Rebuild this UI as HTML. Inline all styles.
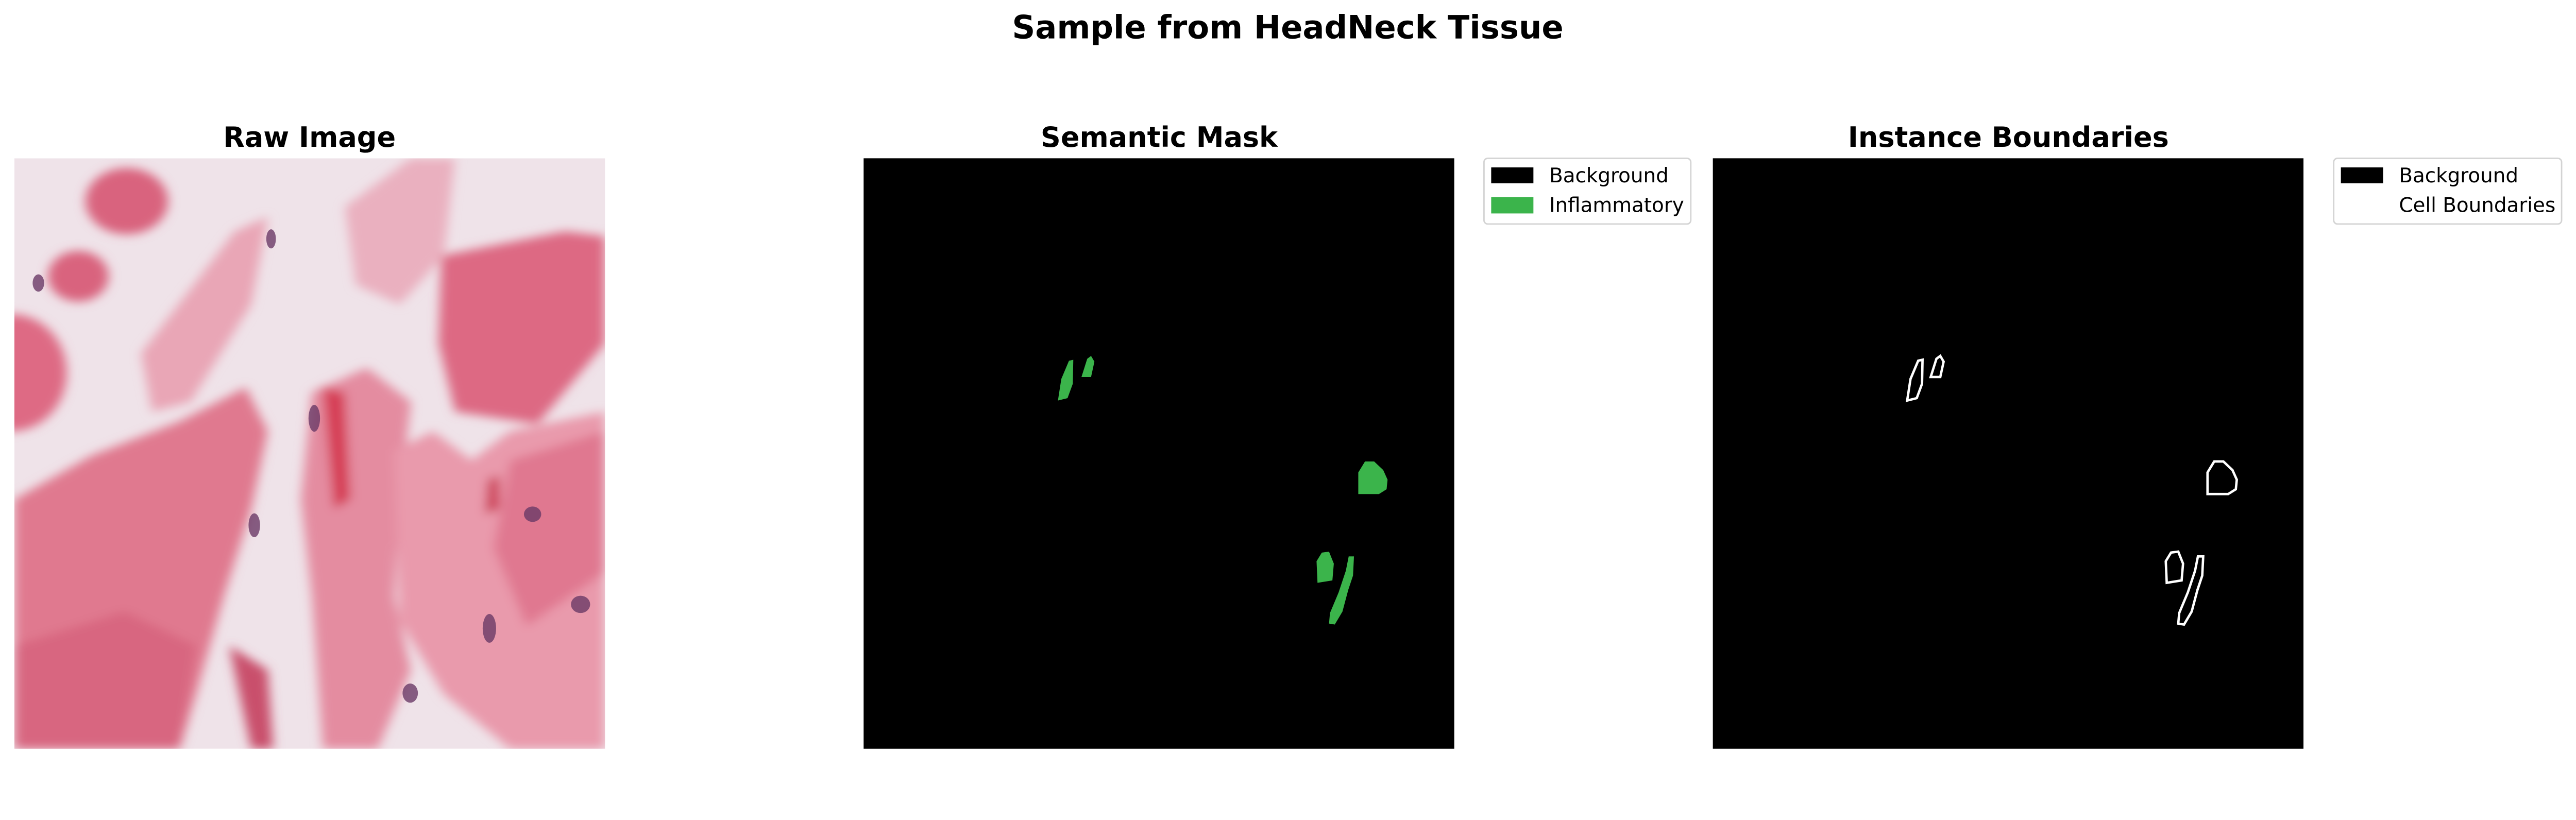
<!DOCTYPE html>
<html><head><meta charset="utf-8"><style>
html,body{margin:0;padding:0;background:#fff;overflow:hidden;}
svg{display:block;width:100vw;height:calc(100vw * 1592 / 5369);font-family:"DejaVu Sans","Liberation Sans",sans-serif;}
</style></head><body>
<svg viewBox="0 0 5369 1592" overflow="hidden">
<defs>
<filter id="blur" x="-5%" y="-5%" width="110%" height="110%"><feGaussianBlur stdDeviation="10"/></filter>
<clipPath id="rawclip"><rect x="30" y="330" width="1231" height="1231"/></clipPath>
</defs>
<text x="2684" y="80" text-anchor="middle" font-size="67" font-weight="bold">Sample from HeadNeck Tissue</text>

<text x="645" y="306" text-anchor="middle" font-size="58" font-weight="bold">Raw Image</text>
<g clip-path="url(#rawclip)">
<rect x="30" y="330" width="1231" height="1231" fill="#efe3e9"/>
<g transform="translate(30,330) scale(1.148,1.016)" filter="url(#blur)">
 <path d="M0,700 L140,610 L300,540 L420,470 L460,560 L430,720 L380,900 L330,1100 L300,1212 L0,1212 Z" fill="#e0798f"/>
 <path d="M0,1000 L200,930 L330,1000 L300,1212 L0,1212 Z" fill="#d86680"/>
 <path d="M390,1000 L430,1212 L470,1212 L460,1050 Z" fill="#c9506c"/>
 <path d="M540,480 L640,430 L720,500 L700,700 L690,900 L720,1050 L660,1212 L560,1212 L540,900 L520,700 Z" fill="#e48ca0"/>
 <path d="M690,600 L760,560 L830,620 L900,560 L1072,520 L1072,1212 L900,1212 L780,1100 L700,950 Z" fill="#e99aac"/>
 <path d="M900,620 L1072,560 L1072,850 L930,960 L870,800 Z" fill="#e07890"/>
 <path d="M775,200 L1000,150 L1072,160 L1072,380 L950,545 L800,520 L770,380 Z" fill="#dd6983"/>
 <ellipse cx="204" cy="88" rx="75" ry="68" fill="#d9647e"/>
 <ellipse cx="116" cy="242" rx="55" ry="52" fill="#d9647e"/>
 <ellipse cx="-5" cy="440" rx="100" ry="120" fill="#de6a84"/>
 <path d="M230,400 L400,150 L460,120 L430,300 L320,500 L250,520 Z" fill="#e9a6b6"/>
 <path d="M600,100 L720,0 L800,0 L780,200 L700,300 L620,260 Z" fill="#eab0bf"/>
 <path d="M560,470 L600,480 L610,700 L580,720 Z" fill="#d63c55"/>
 <path d="M860,660 L880,650 L880,720 L855,730 Z" fill="#cc3b52"/>
</g>
<g fill="#6a3a66" opacity="0.8">
 <ellipse cx="80" cy="590" rx="12" ry="18"/>
 <ellipse cx="565" cy="498" rx="10" ry="20"/>
 <ellipse cx="530" cy="1095" rx="12" ry="25"/>
 <ellipse cx="1110" cy="1072" rx="18" ry="16"/>
 <ellipse cx="1210" cy="1260" rx="20" ry="18"/>
 <ellipse cx="855" cy="1445" rx="16" ry="20"/>
 <ellipse cx="1020" cy="1310" rx="14" ry="30"/>
 <ellipse cx="655" cy="872" rx="12" ry="28"/>
</g>
</g>

<text x="2416" y="306" text-anchor="middle" font-size="58" font-weight="bold">Semantic Mask</text>
<rect x="1800" y="330" width="1231" height="1231" fill="#000"/>
<g id="maskblobs" fill="#3bb44b"></g>

<g>
<rect x="3093" y="330" width="431" height="137" rx="8" fill="#fff" stroke="#d3d3d3" stroke-width="3"/>
<rect x="3108" y="349" width="88" height="33" fill="#000"/>
<text x="3229" y="380" font-size="41.7">Background</text>
<rect x="3108" y="411" width="88" height="34" fill="#3bb44b"/>
<text x="3229" y="442" font-size="41.7">Inflammatory</text>
</g>

<text x="4186" y="306" text-anchor="middle" font-size="58" font-weight="bold">Instance Boundaries</text>
<rect x="3570" y="330" width="1231" height="1231" fill="#000"/>
<g id="instblobs" fill="none" stroke="#fff" stroke-width="5"></g>

<g>
<rect x="4864" y="330" width="475" height="137" rx="8" fill="#fff" stroke="#d3d3d3" stroke-width="3"/>
<rect x="4879" y="349" width="88" height="33" fill="#000"/>
<text x="5000" y="380" font-size="41.7">Background</text>
<text x="5000" y="442" font-size="41.7">Cell Boundaries</text>
</g>
</svg>
<script>
const cellNames = ['cell-1','cell-2','cell-3','cell-4','cell-5'];
const cellShapes = [
 [[405,505],[412,460],[428,422],[437,420],[436,470],[425,500]],
 [[454,456],[466,418],[474,412],[481,424],[474,456]],
 [[1031,700],[1031,655],[1045,632],[1064,632],[1083,650],[1092,670],[1090,690],[1074,700]],
 [[946,885],[944,840],[955,822],[970,820],[980,845],[977,880]],
 [[1011,830],[1022,830],[1020,870],[1010,900],[998,945],[982,972],[970,970],[972,948],[990,905],[1005,860]]
];
const NS='http://www.w3.org/2000/svg';
function pts(shape, ox, oy){ return shape.map(p=>(p[0]+ox)+','+(p[1]+oy)).join(' '); }
const mg=document.getElementById('maskblobs'), ig=document.getElementById('instblobs');
cellShapes.forEach((s,i)=>{
 const a=document.createElementNS(NS,'polygon');
 a.setAttribute('points',pts(s,1800,330));
 
 
 mg.appendChild(a);
 const b=document.createElementNS(NS,'polygon');
 b.setAttribute('points',pts(s,3570,330));
 
 
 ig.appendChild(b);
});
</script>
</body></html>
